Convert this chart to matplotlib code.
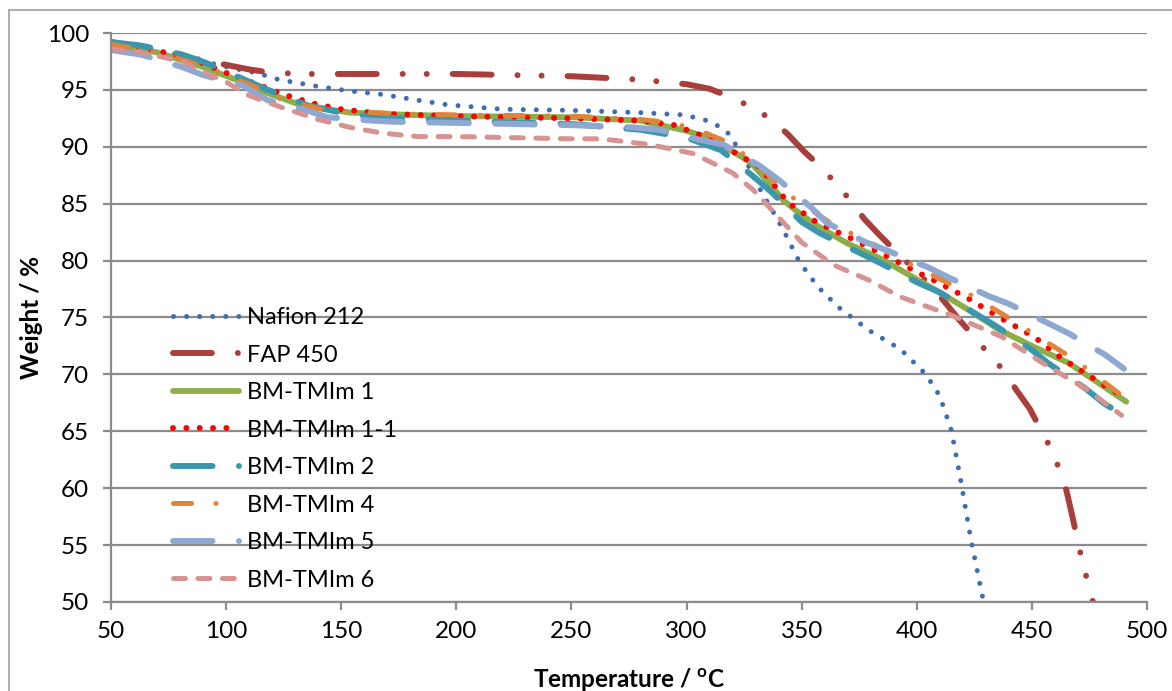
import matplotlib
matplotlib.use("Agg")

import matplotlib.pyplot as plt
from matplotlib.patches import Rectangle

plt.rcParams["font.family"] = ["Lato", "DejaVu Sans"]
plt.rcParams["mathtext.fontset"] = "custom"
plt.rcParams["mathtext.rm"] = "Lato"
plt.rcParams["mathtext.bf"] = "Lato:bold"
plt.rcParams["lines.scale_dashes"] = False

# temperature (°C) / weight (%)
nafion_t = [50, 60, 75, 90, 103, 113, 123, 140, 154, 168, 183, 196, 220, 250, 280, 299,
            309, 314, 318, 325, 331, 337, 342, 349, 357, 366, 379, 393, 404, 410, 415,
            419, 423.5, 429]
nafion_w = [99.0, 98.8, 98.2, 97.5, 96.9, 96.5, 95.9, 95.3, 94.9, 94.6, 94.1, 93.7, 93.3,
            93.2, 93.0, 92.8, 92.3, 91.8, 91.2, 89.1, 86.6, 84.5, 82.7, 79.9, 77.7, 75.9,
            73.9, 72.2, 70.0, 68.1, 65.1, 60.8, 55.5, 50.0]

fap_t = [50, 65, 80, 100, 110, 120, 135, 150, 200, 250, 280, 300, 310, 320, 329, 337, 344,
         351, 359, 366, 372, 377, 384, 392, 400, 406, 412, 418, 425, 432, 438, 443, 449,
         454, 459, 462, 465, 467.5, 469.6, 472, 476.5]
fap_w = [99.2, 98.7, 98.0, 97.2, 96.8, 96.5, 96.4, 96.4, 96.4, 96.2, 95.9, 95.5, 95.1, 94.3,
         93.4, 92.4, 91.1, 89.6, 88.1, 86.5, 85.1, 83.7, 82.2, 80.6, 79.0, 77.8, 76.4, 74.9,
         73.3, 71.6, 70.3, 68.7, 67.0, 65.1, 63.2, 61.6, 59.8, 57.6, 55.6, 53.5, 50.0]

bm1_t = [50, 70, 90, 103, 117, 132, 154, 180, 200, 250, 280, 300, 310, 320, 328, 335, 342,
         350, 358, 370, 384, 397, 410, 423, 436, 450, 466, 480, 491]
bm1_w = [99.0, 98.3, 97.0, 96.0, 94.8, 93.7, 93.0, 92.8, 92.7, 92.6, 92.3, 91.4, 90.8, 89.6,
         88.6, 87.0, 85.3, 84.0, 82.9, 81.5, 80.2, 78.7, 77.2, 75.6, 73.9, 72.5, 71.0, 69.1,
         67.6]

bm11_t = [50, 61, 81, 88, 100, 112, 125, 138, 150, 168, 200, 250, 280, 295, 310, 320, 332,
          344, 357, 371, 386, 400, 409, 423, 436, 451, 463, 481, 491]
bm11_w = [99.2, 98.9, 97.9, 97.5, 96.5, 95.6, 94.6, 93.8, 93.3, 92.9, 92.7, 92.5, 92.3,
          91.9, 90.7, 89.6, 88.2, 85.1, 83.3, 82.0, 80.5, 79.0, 78.1, 76.6, 75.0, 73.3,
          71.4, 69.1, 67.9]

bm2_t = [50, 63, 81, 91, 108, 117, 136, 150, 165, 200, 250, 280, 300, 315, 329, 337, 350,
         358, 375, 384, 400, 410, 425, 434, 449, 457, 473, 481, 491]
bm2_w = [99.2, 98.9, 98.1, 97.4, 95.9, 95.1, 93.6, 93.0, 92.6, 92.3, 92.0, 91.5, 90.8, 89.7,
         87.4, 86.0, 83.4, 82.4, 80.7, 79.8, 78.1, 77.2, 75.4, 74.3, 72.3, 71.0, 68.8, 67.5,
         66.2]

bm4_t = [50, 70, 90, 110, 125, 144, 175, 200, 250, 280, 294, 306, 318, 331, 345, 364, 378,
         395, 413, 420, 438, 445, 463, 468, 486, 491]
bm4_w = [99.0, 98.3, 97.1, 95.5, 94.1, 93.2, 92.9, 92.8, 92.7, 92.4, 92.1, 91.4, 90.4, 88.4,
         85.7, 83.1, 81.8, 79.9, 78.1, 77.4, 75.2, 74.3, 72.0, 71.4, 68.6, 67.8]

bm5_t = [50, 63, 81, 90, 107, 118, 135, 144, 163, 173, 200, 250, 277, 288, 306, 316, 332,
         340, 354, 361, 378, 387, 405, 413, 431, 440, 457, 466, 482, 490]
bm5_w = [98.5, 98.1, 97.0, 96.3, 95.4, 94.1, 93.2, 92.6, 92.3, 92.2, 92.1, 91.9, 91.7, 91.5,
         90.6, 90.2, 88.3, 87.1, 84.7, 83.3, 81.6, 80.9, 79.4, 78.6, 76.9, 76.2, 74.5, 73.6,
         71.7, 70.5]

bm6_t = [50, 63, 81, 89, 100, 110, 125, 140, 154, 168, 183, 200, 250, 263, 284, 303, 320,
         329, 340, 350, 364, 379, 393, 415, 437, 457, 473, 489]
bm6_w = [98.6, 98.3, 97.5, 96.7, 95.7, 94.5, 93.4, 92.4, 91.7, 91.2, 90.9, 90.9, 90.7, 90.7,
         90.2, 89.4, 87.7, 86.2, 83.8, 81.6, 79.6, 78.3, 76.8, 75.2, 73.3, 70.7, 68.8, 66.4]

labels = ["Nafion 212", "FAP 450", "BM-TMIm 1", "BM-TMIm 1-1",
          "BM-TMIm 2", "BM-TMIm 4", "BM-TMIm 5", "BM-TMIm 6"]
colors = ["#3E6DB5", "#A83F3B", "#8BAE4A", "#FF0000",
          "#3C97AE", "#E0843A", "#8FA8D2", "#D69391"]

series = [(nafion_t, nafion_w), (fap_t, fap_w), (bm1_t, bm1_w), (bm11_t, bm11_w),
          (bm2_t, bm2_w), (bm4_t, bm4_w), (bm5_t, bm5_w), (bm6_t, bm6_w)]

# (linewidth, dash pattern in points; None = solid)
styles = [
    (3.6, (0.01, 9.4)),
    (4.3, (28, 18.7, 0.01, 17.3, 0.01, 18.7)),
    (4.2, None),
    (4.3, (0.01, 9.6)),
    (4.3, (28.5, 19)),
    (3.6, (13, 17.6, 0.01, 18)),
    (4.3, (28.5, 19)),
    (3.6, (8.6, 9)),
]

grey = "#8C8C8C"

fig = plt.figure(figsize=(11.72, 6.91), dpi=100)
ax = fig.add_axes([111 / 1172, 1 - 602 / 691, 1036 / 1172, 569 / 691])

for (t, w), lab, col, (lw, dash) in zip(series, labels, colors, styles):
    line, = ax.plot(t, w, color=col, lw=lw, label=lab,
                    solid_capstyle="round", dash_capstyle="round",
                    solid_joinstyle="round", dash_joinstyle="round")
    if dash is not None:
        line.set_dashes(dash)

ax.set_xlim(50, 500)
ax.set_ylim(50, 100)
ax.set_xticks(range(50, 501, 50))
ax.set_yticks(range(50, 101, 5))

ax.grid(True, axis="y", color=grey, lw=1.6)
ax.set_axisbelow(True)
for side in ("top", "right"):
    ax.spines[side].set_visible(False)
for side in ("left", "bottom"):
    ax.spines[side].set_color(grey)
    ax.spines[side].set_linewidth(1.6)
ax.tick_params(axis="both", direction="out", length=5.8, width=1.6, color=grey,
               labelsize=17.5)
ax.tick_params(axis="y", pad=10)
ax.tick_params(axis="x", pad=8)

ax.set_xlabel(r"Temperature / $\mathbf{^{o}}$C", fontsize=17.5, fontweight="bold")
ax.set_ylabel("Weight / %", fontsize=17.5, fontweight="bold")
ax.xaxis.set_label_coords(0.5, -0.112)
ax.yaxis.set_label_coords(-0.066, 0.5)

ax.legend(loc="upper left", bbox_to_anchor=(173 / 1172, 1 - 307 / 691),
          bbox_transform=fig.transFigure, frameon=False, fontsize=17,
          borderpad=0, borderaxespad=0, handlelength=2.8, handletextpad=0.32,
          labelspacing=0.7)

# outer chart-area border
fig.add_artist(Rectangle((8.5 / 1172, -1), 2, 2 - 10 / 691, transform=fig.transFigure,
                         fill=False, edgecolor="#A0A0A0", lw=1.2))

fig.savefig("out.png", dpi=100)
